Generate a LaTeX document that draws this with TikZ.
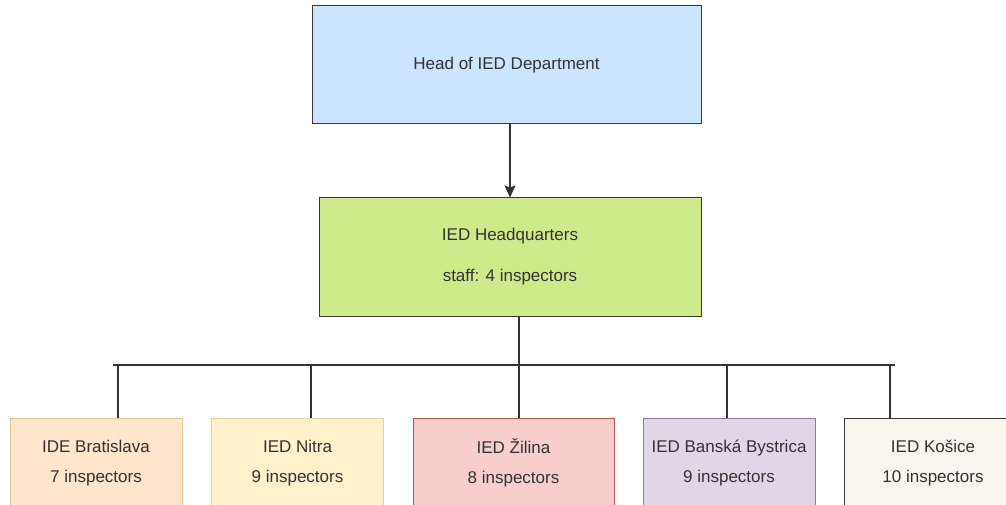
\documentclass[tikz,border=0pt]{standalone}
\usepackage{fontspec}
\setmainfont{Liberation Sans}
\usetikzlibrary{arrows.meta}
\definecolor{edge}{HTML}{36393D}
\definecolor{ink}{HTML}{333333}
\definecolor{headfill}{HTML}{CCE5FF}
\definecolor{hqfill}{HTML}{CDEB8B}
\definecolor{bafill}{HTML}{FFE6CC}
\definecolor{badraw}{HTML}{E6C79C}
\definecolor{nrfill}{HTML}{FFF2CC}
\definecolor{nrdraw}{HTML}{E6D49A}
\definecolor{zafill}{HTML}{F8CECC}
\definecolor{zadraw}{HTML}{B85450}
\definecolor{bbfill}{HTML}{E1D5E7}
\definecolor{bbdraw}{HTML}{9673A6}
\definecolor{kefill}{HTML}{F9F7ED}
\begin{document}
\begin{tikzpicture}[x=1pt,y=-1pt,
  unit/.style={draw=edge,line width=1pt,inner sep=0pt,align=center,text=ink,
    font=\fontsize{17}{20}\selectfont},
  branch/.style={unit,minimum width=172pt,minimum height=90pt},
  link/.style={draw=ink,line width=1.4pt}]
  \useasboundingbox (0,0) rectangle (1006,505);
  % top of the chart
  \node[unit,fill=headfill,minimum width=389pt,minimum height=118pt] (head) at (506.5,65) {Head of IED Department};
  \node[unit,fill=hqfill,minimum width=382pt,minimum height=118pt] (hq) at (510,257) {IED Headquarters\\[21pt]staff: 4 inspectors};
  \draw[link,-{Stealth[length=12pt,width=11pt,inset=2pt]}] (head.south -| hq.north) -- (hq.north);
  % regional offices
  \node[branch,fill=bafill,draw=badraw] (ba) at (96,463) {IDE Bratislava\\[10pt]7 inspectors};
  \node[branch,fill=nrfill,draw=nrdraw] (nr) at (297.5,463) {IED Nitra\\[10pt]9 inspectors};
  \node[branch,fill=zafill,draw=zadraw,minimum width=201pt] (za) at (513.5,463) {IED Žilina\\[10pt]8 inspectors};
  \node[branch,fill=bbfill,draw=bbdraw] (bb) at (729,463) {IED Banská Bystrica\\[10pt]9 inspectors};
  \node[branch,fill=kefill,minimum width=178pt] (ke) at (933,463) {IED Košice\\[10pt]10 inspectors};
  \coordinate (busL) at (113,365);
  \coordinate (busR) at (895,365);
  \draw[link] (busL) -- (busR);
  \draw[link] ([xshift=9pt]hq.south) -- ([xshift=9pt]hq.south |- busL);
  \foreach \name/\dx in {ba/22,nr/13.5,za/5.5,bb/-2,ke/-43}
    \draw[link] ([xshift=\dx pt]\name.north |- busL) -- ([xshift=\dx pt]\name.north);
\end{tikzpicture}
\end{document}
